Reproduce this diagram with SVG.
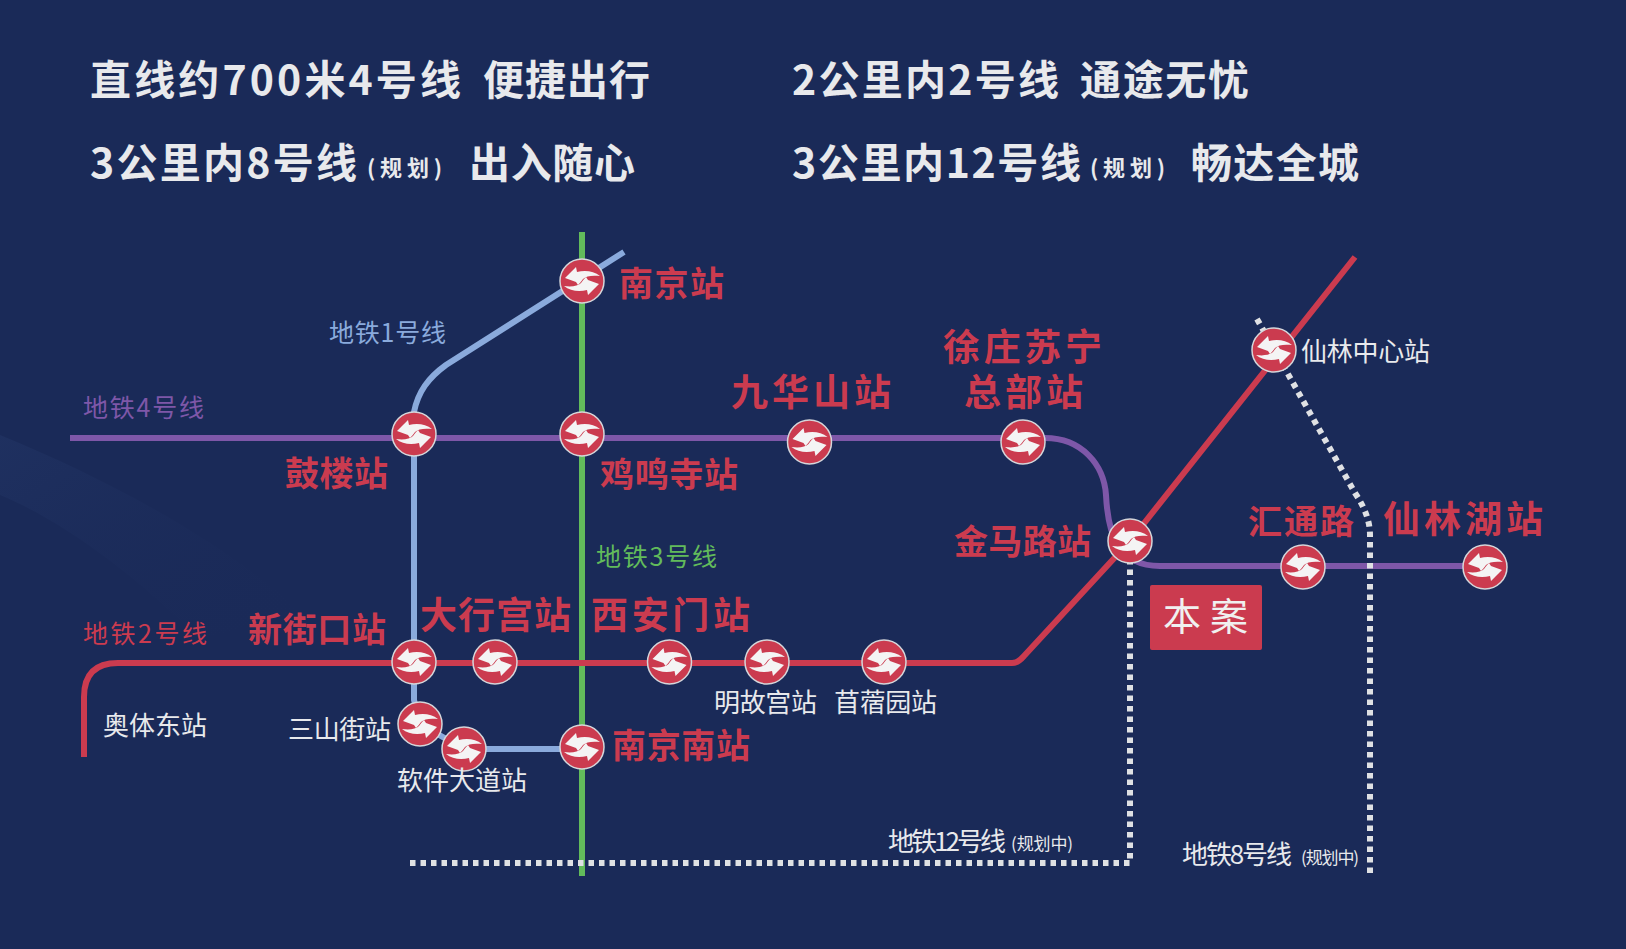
<svg xmlns="http://www.w3.org/2000/svg" width="1626" height="949" viewBox="0 0 1626 949">
<style>
text{font-family:"Noto Sans CJK SC","Noto Sans",sans-serif}
.h{font-size:41px;font-weight:700;fill:#e8e9ec}
.s{font-size:22px;font-weight:700;fill:#e8e9ec}
.r{font-weight:700;fill:#cb3b4f}
.w{font-size:26px;fill:#e8e9ec}
.l{fill:none;stroke-width:6}
.d{fill:none;stroke:#dfe1e4;stroke-width:6;stroke-dasharray:5.5 5}
.c{fill:#cb3b4f;stroke:#d5d6da;stroke-width:1.5}
.a{fill:#f4f4f4}
</style>
<defs>
<linearGradient id="sw" x1="0" y1="0" x2="1" y2="1"><stop offset="0" stop-color="#2a3f72" stop-opacity=".3"/><stop offset="1" stop-color="#1a2a58" stop-opacity="0"/></linearGradient>
<g id="st">
<circle class="c" r="22"/>
<path class="a" d="M-17-3L-6-14L-5-9C3-11 12-10 18-5C10-6 4-5 1-2C-1 1-3 3-4 4L-6 1Z"/>
<path class="a" transform="rotate(180)" d="M-17-3L-6-14L-5-9C3-11 12-10 18-5C10-6 4-5 1-2C-1 1-3 3-4 4L-6 1Z"/>
</g>
</defs>
<rect width="1626" height="949" fill="#1a2a58"/>
<path d="M0 435C110 480 220 540 300 610L200 640C130 570 60 520 0 495Z" fill="url(#sw)"/>
<g id="headline">
<text class="h" x="90" y="95" textLength="371">直线约700米4号线</text>
<text class="h" x="483" y="95" textLength="167">便捷出行</text>
<text class="h" x="792" y="95" textLength="267">2公里内2号线</text>
<text class="h" x="1080" y="95" textLength="169">通途无忧</text>
<text class="h" x="90" y="178" textLength="267">3公里内8号线</text>
<text class="s" x="367" y="176" textLength="75">(规划)</text>
<text class="h" x="469" y="178" textLength="166">出入随心</text>
<text class="h" x="792" y="178" textLength="289">3公里内12号线</text>
<text class="s" x="1090" y="176" textLength="75">(规划)</text>
<text class="h" x="1191" y="178" textLength="168">畅达全城</text>
</g>
<g id="connectors">
<path class="l" stroke="#62bb5b" d="M582 232V876"/>
<path class="l" stroke="#8aaadc" d="M624 252L446 365C428 378 418 392 414 412V700L420 724L464 749H582"/>
<path class="l" stroke="#7e57a8" d="M70 438H1045C1082 438 1104 465 1106 495C1108 535 1118 566 1160 566H1485"/>
<path class="l" stroke="#cb3b4f" d="M84 757V697Q84 663 118 663H1012Q1018 663 1024 656L1130 541L1355 257"/>
<path class="d" d="M410 863H1130V555"/>
<path class="d" d="M1257 319L1355 493Q1370 515 1370 535V873"/>
</g>
<g id="line-labels">
<text x="329" y="342" font-size="25" fill="#8aaadc" textLength="117">地铁1号线</text>
<text x="83" y="417" font-size="25" fill="#7e57a8" textLength="121">地铁4号线</text>
<text x="596" y="566" font-size="25" fill="#62bb5b" textLength="121">地铁3号线</text>
<text x="83" y="643" font-size="25" fill="#cb3b4f" textLength="124">地铁2号线</text>
<text class="w" x="888" y="851" textLength="118">地铁12号线</text>
<text x="1011" y="850" font-size="17" fill="#e8e9ec" textLength="62">(规划中)</text>
<text class="w" x="1182" y="864" textLength="110">地铁8号线</text>
<text x="1301" y="864" font-size="17" fill="#e8e9ec" textLength="58">(规划中)</text>
</g>
<g id="n-nanjing"><use href="#st" x="582" y="281"/><text class="r" x="619" y="296" font-size="34" textLength="105">南京站</text></g>
<g id="n-jiming"><use href="#st" x="582" y="434"/><text class="r" x="600" y="487" font-size="34" textLength="138">鸡鸣寺站</text></g>
<g id="n-gulou"><use href="#st" x="414" y="434"/><text class="r" x="285" y="486" font-size="34" textLength="103">鼓楼站</text></g>
<g id="n-jiuhua"><use href="#st" x="809.5" y="442"/><text class="r" x="731" y="406" font-size="37" textLength="160">九华山站</text></g>
<g id="n-xuzhuang"><use href="#st" x="1023" y="442"/><text class="r" font-size="37"><tspan x="943" y="361" textLength="159">徐庄苏宁</tspan><tspan x="964" y="406" textLength="119">总部站</tspan></text></g>
<g id="n-jinma"><use href="#st" x="1130" y="541"/><text class="r" x="954" y="554" font-size="34" textLength="137">金马路站</text></g>
<g id="n-huitong"><use href="#st" x="1303" y="567"/><text class="r" x="1248" y="534" font-size="34" textLength="106">汇通路</text></g>
<g id="n-xianlinhu"><use href="#st" x="1485" y="567"/><text class="r" x="1383" y="533" font-size="37" textLength="160">仙林湖站</text></g>
<g id="n-xianlinzx"><use href="#st" x="1274" y="350"/><text class="w" x="1301" y="361" textLength="129">仙林中心站</text></g>
<g id="n-xinjiekou"><use href="#st" x="414" y="662"/><text class="r" x="248" y="642" font-size="34" textLength="138">新街口站</text></g>
<g id="n-daxinggong"><use href="#st" x="495" y="662"/><text class="r" x="420" y="629" font-size="37" textLength="151">大行宫站</text></g>
<g id="n-xianmen"><use href="#st" x="669.5" y="662"/><text class="r" x="591" y="629" font-size="37" textLength="159">西安门站</text></g>
<g id="n-minggugong"><use href="#st" x="767" y="662"/><text class="w" x="714" y="712" textLength="103">明故宫站</text></g>
<g id="n-muxuyuan"><use href="#st" x="884" y="662"/><text class="w" x="834" y="712" textLength="103">苜蓿园站</text></g>
<g id="n-aoti"><text class="w" x="103" y="735" textLength="104">奥体东站</text></g>
<g id="n-sanshan"><use href="#st" x="420" y="724"/><text class="w" x="288" y="739" textLength="103">三山街站</text></g>
<g id="n-ruanjian"><use href="#st" x="464" y="749"/><text class="w" x="397" y="790" textLength="130">软件大道站</text></g>
<g id="n-nanjingnan"><use href="#st" x="582" y="747"/><text class="r" x="612" y="758" font-size="34" textLength="138">南京南站</text></g>
<g id="n-benan"><rect x="1150" y="585" width="112" height="65" rx="2" fill="#cb3b4f"/><text x="1163" y="630" font-size="38" fill="#f0f0f0" textLength="85">本案</text></g>
</svg>
